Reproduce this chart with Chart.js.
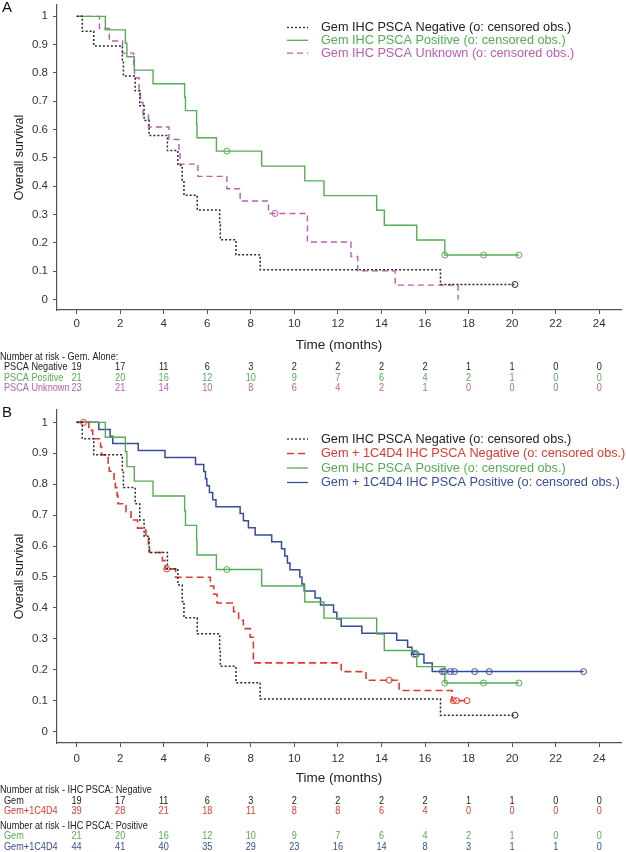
<!DOCTYPE html>
<html>
<head>
<meta charset="utf-8">
<script src="https://cdn.jsdelivr.net/npm/chart.js@4/dist/chart.umd.min.js"></script>
<style>
  html, body { margin: 0; padding: 0; background: #fff; }
  body { width: 626px; height: 852px; position: relative; overflow: hidden; }
  canvas { position: absolute; left: 0; }
  #chartA { top: 0; }
  #chartB { top: 400px; }
</style>
</head>
<body>
<canvas id="chartA" width="626" height="400"></canvas>
<canvas id="chartB" width="626" height="452"></canvas>
<script>
// time ticks (months), also the columns of the number-at-risk tables
const timePoints = [0, 2, 4, 6, 8, 10, 12, 14, 16, 18, 20, 22, 24];
const survTicks = [0, 0.1, 0.2, 0.3, 0.4, 0.5, 0.6, 0.7, 0.8, 0.9, 1];
const survTickLabels = ['0', '0.1', '0.2', '0.3', '0.4', '0.5', '0.6', '0.7', '0.8', '0.9', '1'];

// Gem, IHC PSCA negative
const gemNegTime = [0, 0.26, 0.79, 2.1, 2.15, 2.69, 2.9, 3.1, 3.33, 4.17, 4.65, 4.85, 4.93, 5.54, 6.57, 6.6, 7.32, 8.43, 16.71, 20.13];
const gemNegSurv = [1, 0.947, 0.895, 0.842, 0.789, 0.737, 0.684, 0.632, 0.579, 0.526, 0.474, 0.421, 0.368, 0.316, 0.263, 0.211, 0.158, 0.105, 0.053, 0.053];
const gemNegCensTime = [20.13];
const gemNegCensSurv = [0.053];

// Gem, IHC PSCA positive
const gemPosTime = [0, 1.32, 2.24, 2.31, 2.65, 3.51, 4.96, 5.0, 5.51, 5.53, 6.42, 8.5, 10.48, 11.36, 13.78, 14.13, 15.62, 16.91, 20.31];
const gemPosSurv = [1, 0.952, 0.905, 0.857, 0.81, 0.762, 0.714, 0.667, 0.619, 0.571, 0.524, 0.471, 0.419, 0.367, 0.315, 0.262, 0.21, 0.157, 0.157];
const gemPosCensTime = [6.9, 16.91, 18.69, 20.31];
const gemPosCensSurv = [0.524, 0.157, 0.157, 0.157];

// Gem, IHC PSCA unknown
const gemUnkTime = [0, 1.05, 1.5, 2.11, 2.62, 2.66, 2.87, 2.93, 3.05, 3.3, 4.24, 4.7, 4.75, 5.57, 6.9, 7.51, 8.81, 10.6, 12.6, 12.91, 14.63, 17.52];
const gemUnkSurv = [1, 0.957, 0.913, 0.87, 0.826, 0.783, 0.739, 0.696, 0.652, 0.609, 0.565, 0.522, 0.478, 0.435, 0.391, 0.348, 0.304, 0.203, 0.152, 0.101, 0.051, 0];
const gemUnkCensTime = [9.11];
const gemUnkCensSurv = [0.304];

// Gem + 1C4D4, IHC PSCA negative
const comboNegTime = [0, 0.56, 0.74, 1.1, 1.15, 1.45, 1.5, 1.72, 1.78, 1.86, 1.9, 2.27, 2.5, 2.8, 3.18, 3.3, 3.35, 3.94, 4.07, 4.55, 6.14, 6.3, 6.45, 7.21, 7.44, 7.66, 7.97, 8.12, 12.15, 13.29, 14.81, 17.24, 17.93];
const comboNegSurv = [1, 0.974, 0.947, 0.921, 0.895, 0.868, 0.842, 0.816, 0.789, 0.763, 0.737, 0.711, 0.684, 0.658, 0.632, 0.605, 0.579, 0.553, 0.526, 0.499, 0.471, 0.444, 0.416, 0.388, 0.36, 0.333, 0.305, 0.222, 0.194, 0.166, 0.133, 0.1, 0.1];
const comboNegCensTime = [0.32, 4.14, 14.36, 17.3, 17.45, 17.93];
const comboNegCensSurv = [1, 0.526, 0.166, 0.1, 0.1, 0.1];

// Gem + 1C4D4, IHC PSCA positive
const comboPosTime = [0, 1.02, 1.54, 1.66, 2.83, 4.06, 5.46, 5.84, 5.92, 5.98, 6.1, 6.25, 6.4, 7.51, 7.66, 7.89, 8.2, 8.96, 9.41, 9.56, 9.68, 9.8, 10.25, 10.35, 10.45, 10.95, 11.2, 11.8, 11.95, 12.15, 13.1, 14.7, 15.2, 15.4, 15.95, 16.33, 23.28];
const comboPosSurv = [1, 0.977, 0.955, 0.932, 0.909, 0.886, 0.864, 0.841, 0.818, 0.795, 0.773, 0.75, 0.727, 0.705, 0.682, 0.659, 0.636, 0.614, 0.591, 0.568, 0.545, 0.523, 0.5, 0.477, 0.455, 0.432, 0.409, 0.386, 0.364, 0.341, 0.318, 0.295, 0.273, 0.25, 0.222, 0.194, 0.194];
const comboPosCensTime = [15.5, 15.6, 16.8, 16.9, 17.17, 17.35, 18.28, 18.95, 23.28];
const comboPosCensSurv = [0.25, 0.25, 0.194, 0.194, 0.194, 0.194, 0.194, 0.194, 0.194];

// number at risk
const riskGemNeg = [19, 17, 11, 6, 3, 2, 2, 2, 2, 1, 1, 0, 0];
const riskGemPos = [21, 20, 16, 12, 10, 9, 7, 6, 4, 2, 1, 0, 0];
const riskGemUnk = [23, 21, 14, 10, 8, 6, 4, 2, 1, 0, 0, 0, 0];
const riskComboNeg = [39, 28, 21, 18, 11, 8, 8, 6, 4, 0, 0, 0, 0];
const riskComboPos = [44, 41, 40, 35, 29, 23, 16, 14, 8, 3, 1, 1, 0];

const FONT = '"Liberation Sans", Arial, sans-serif';
const AXIS = '#555555';
const C_NEG = '#2b2b2b';
const C_POS = '#55ad55';
const C_UNK = '#bb5db0';
const C_CNEG = '#e2382f';
const C_CPOS = '#3a4b9c';
const DASH_NEG = [2, 2];
const DASH_UNK = [6, 4];
const DASH_CNEG = [7, 4];

function pts(times, surv) {
  return times.map((t, i) => ({ x: t, y: surv[i] }));
}

function curve(label, times, surv, color, dash, width) {
  return {
    label, data: pts(times, surv),
    borderColor: color, borderWidth: width, borderDash: dash,
    stepped: 'before', pointRadius: 0, pointHoverRadius: 0, fill: false, tension: 0
  };
}

function censored(label, times, surv, color) {
  return {
    label, data: pts(times, surv), showLine: false,
    borderColor: color, backgroundColor: 'rgba(0,0,0,0)',
    pointStyle: 'circle', pointRadius: 3, borderWidth: 1
  };
}

function makeScales(tickPad, titlePad) {
  return {
    x: {
      type: 'linear', min: -0.9, max: 25,
      afterBuildTicks: s => { s.ticks = timePoints.map(v => ({ value: v })); },
      afterFit: s => { s.height = 45; s.paddingLeft = 0; s.paddingRight = 0; },
      grid: { display: true, drawOnChartArea: false, drawTicks: true, tickLength: 4, color: AXIS },
      border: { display: true, color: AXIS, width: 1.2 },
      ticks: { color: '#333', font: { family: FONT, size: 11.5 }, padding: tickPad, maxRotation: 0, autoSkip: false,
               callback: v => String(v) },
      title: { display: true, text: 'Time (months)', color: '#222', font: { family: FONT, size: 13.5 },
               padding: { top: 0, bottom: titlePad } }
    },
    y: {
      type: 'linear', min: -0.037, max: 1.04,
      afterBuildTicks: s => { s.ticks = survTicks.map(v => ({ value: v })); },
      afterFit: s => { s.width = 57; s.paddingTop = 0; s.paddingBottom = 0; },
      grid: { display: true, drawOnChartArea: false, drawTicks: true, tickLength: 4, color: AXIS },
      border: { display: true, color: AXIS, width: 1.2 },
      ticks: { color: '#333', font: { family: FONT, size: 11.5 }, padding: 5,
               callback: (v, i) => survTickLabels[i] },
      title: { display: true, text: 'Overall survival', color: '#222', font: { family: FONT, size: 12.5 },
               padding: { top: 12, bottom: 0 } }
    }
  };
}

// narrow text for the risk tables
function narrowText(ctx, text, x, y) {
  const w = ctx.measureText(text).width;
  ctx.fillText(text, x, y, w * 0.87);
}

// legend + panel letter + number-at-risk table, drawn on top of the chart
function decorPlugin(letter, letterY, legend, legendY0, legendStep, rows) {
  return {
    id: 'decor' + letter,
    afterDraw(chart) {
      const ctx = chart.ctx;
      const xs = chart.scales.x;
      ctx.save();
      ctx.fillStyle = '#111';
      ctx.font = '15px ' + FONT;
      ctx.textBaseline = 'middle';
      ctx.textAlign = 'left';
      ctx.fillText(letter, 2, letterY);

      ctx.font = '12.7px ' + FONT;
      legend.forEach((it, i) => {
        const y = legendY0 + i * legendStep;
        ctx.strokeStyle = it.color;
        ctx.lineWidth = it.width;
        ctx.setLineDash(it.dash);
        ctx.beginPath();
        ctx.moveTo(287, y);
        ctx.lineTo(308, y);
        ctx.stroke();
        ctx.setLineDash([]);
        ctx.fillStyle = it.textColor || it.color;
        ctx.fillText(it.text, 321, y);
      });

      ctx.font = '10.5px ' + FONT;
      rows.forEach(r => {
        ctx.fillStyle = r.color;
        ctx.textAlign = 'left';
        narrowText(ctx, r.label, r.indent, r.y);
        if (r.values) {
          ctx.textAlign = 'center';
          r.values.forEach((v, i) => narrowText(ctx, String(v), xs.getPixelForValue(timePoints[i]), r.y));
        }
      });
      ctx.restore();
    }
  };
}

new Chart(document.getElementById('chartA'), {
  type: 'line',
  data: {
    datasets: [
      curve('Gem IHC PSCA Negative', gemNegTime, gemNegSurv, C_NEG, DASH_NEG, 1.5),
      curve('Gem IHC PSCA Positive', gemPosTime, gemPosSurv, C_POS, [], 1.4),
      curve('Gem IHC PSCA Unknown', gemUnkTime, gemUnkSurv, C_UNK, DASH_UNK, 1.4),
      censored('neg censored', gemNegCensTime, gemNegCensSurv, C_NEG),
      censored('pos censored', gemPosCensTime, gemPosCensSurv, C_POS),
      censored('unk censored', gemUnkCensTime, gemUnkCensSurv, C_UNK)
    ]
  },
  options: {
    responsive: false, animation: false,
    layout: { padding: { left: 0, right: 1, top: 1, bottom: 45 } },
    plugins: { legend: { display: false }, tooltip: { enabled: false } },
    scales: makeScales(3, 2)
  },
  plugins: [decorPlugin('A', 8, [
    { text: 'Gem IHC PSCA Negative (o: censored obs.)', color: C_NEG, textColor: '#222', dash: DASH_NEG, width: 1.3 },
    { text: 'Gem IHC PSCA Positive (o: censored obs.)', color: C_POS, dash: [], width: 1.3 },
    { text: 'Gem IHC PSCA Unknown (o: censored obs.)', color: C_UNK, dash: DASH_UNK, width: 1.3 }
  ], 27.5, 12.8, [
    { label: 'Number at risk - Gem. Alone:', color: '#222', indent: 0, y: 357 },
    { label: 'PSCA Negative', color: '#222', indent: 4, y: 367.5, values: riskGemNeg },
    { label: 'PSCA Positive', color: C_POS, indent: 4, y: 378, values: riskGemPos },
    { label: 'PSCA Unknown', color: C_UNK, indent: 4, y: 388.5, values: riskGemUnk }
  ])]
});

new Chart(document.getElementById('chartB'), {
  type: 'line',
  data: {
    datasets: [
      curve('Gem IHC PSCA Negative', gemNegTime, gemNegSurv, C_NEG, DASH_NEG, 1.5),
      curve('Gem + 1C4D4 IHC PSCA Negative', comboNegTime, comboNegSurv, C_CNEG, DASH_CNEG, 1.6),
      curve('Gem IHC PSCA Positive', gemPosTime, gemPosSurv, C_POS, [], 1.4),
      curve('Gem + 1C4D4 IHC PSCA Positive', comboPosTime, comboPosSurv, C_CPOS, [], 1.5),
      censored('neg censored', gemNegCensTime, gemNegCensSurv, C_NEG),
      censored('combo neg censored', comboNegCensTime, comboNegCensSurv, C_CNEG),
      censored('pos censored', gemPosCensTime, gemPosCensSurv, C_POS),
      censored('combo pos censored', comboPosCensTime, comboPosCensSurv, C_CPOS)
    ]
  },
  options: {
    responsive: false, animation: false,
    layout: { padding: { left: 0, right: 1, top: 10, bottom: 64 } },
    plugins: { legend: { display: false }, tooltip: { enabled: false } },
    scales: makeScales(5, 2)
  },
  plugins: [decorPlugin('B', 13, [
    { text: 'Gem IHC PSCA Negative (o: censored obs.)', color: C_NEG, textColor: '#222', dash: DASH_NEG, width: 1.3 },
    { text: 'Gem + 1C4D4 IHC PSCA Negative (o: censored obs.)', color: C_CNEG, dash: DASH_CNEG, width: 1.3 },
    { text: 'Gem IHC PSCA Positive (o: censored obs.)', color: C_POS, dash: [], width: 1.3 },
    { text: 'Gem + 1C4D4 IHC PSCA Positive (o: censored obs.)', color: C_CPOS, dash: [], width: 1.3 }
  ], 39, 14.5, [
    { label: 'Number at risk - IHC PSCA: Negative', color: '#222', indent: 0, y: 390 },
    { label: 'Gem', color: '#222', indent: 4, y: 401, values: riskGemNeg },
    { label: 'Gem+1C4D4', color: C_CNEG, indent: 4, y: 411.5, values: riskComboNeg },
    { label: 'Number at risk - IHC PSCA: Positive', color: '#222', indent: 0, y: 426 },
    { label: 'Gem', color: C_POS, indent: 4, y: 436.5, values: riskGemPos },
    { label: 'Gem+1C4D4', color: C_CPOS, indent: 4, y: 447, values: riskComboPos }
  ])]
});
</script>
</body>
</html>
